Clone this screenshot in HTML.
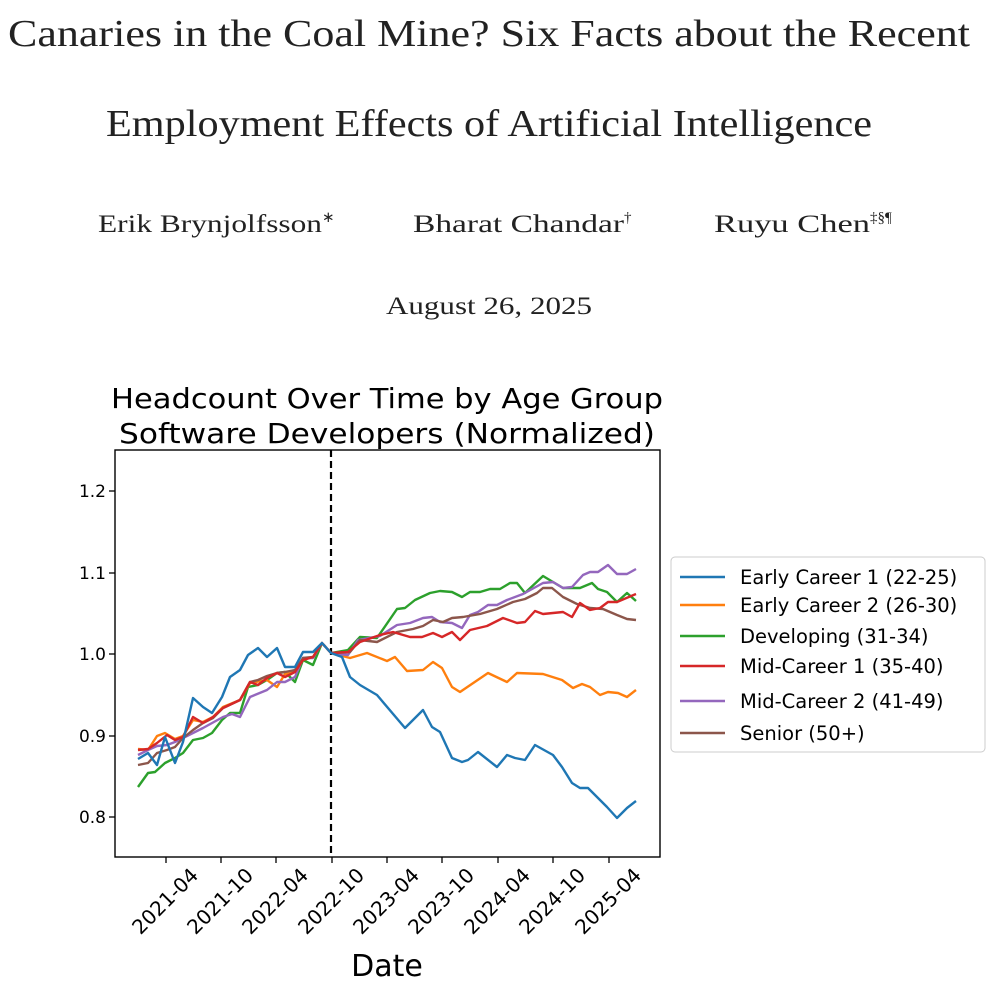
<!DOCTYPE html>
<html><head><meta charset="utf-8"><style>
html,body{margin:0;padding:0;background:#fff;width:1000px;height:990px;overflow:hidden}
</style></head><body>
<svg width="1000" height="990" xmlns="http://www.w3.org/2000/svg">
<g font-family="Liberation Serif, serif" fill="#222">
<text x="8" y="46" font-size="38" textLength="962" lengthAdjust="spacingAndGlyphs">Canaries in the Coal Mine? Six Facts about the Recent</text>
<text x="106" y="136" font-size="38" textLength="766" lengthAdjust="spacingAndGlyphs">Employment Effects of Artificial Intelligence</text>
<text x="98" y="232" font-size="25"><tspan textLength="224" lengthAdjust="spacingAndGlyphs">Erik Brynjolfsson</tspan><tspan font-size="15" dy="-10">∗</tspan></text>
<text x="413" y="232" font-size="25"><tspan textLength="211" lengthAdjust="spacingAndGlyphs">Bharat Chandar</tspan><tspan font-size="15" dy="-10">†</tspan></text>
<text x="714" y="232" font-size="25"><tspan textLength="156" lengthAdjust="spacingAndGlyphs">Ruyu Chen</tspan><tspan font-size="15" dy="-10">‡§¶</tspan></text>
<text x="386" y="314" font-size="25" textLength="206" lengthAdjust="spacingAndGlyphs">August 26, 2025</text>
</g>
<g font-family="DejaVu Sans, Liberation Sans, sans-serif" fill="#000">
<text x="387" y="408" font-size="28" text-anchor="middle" textLength="552" lengthAdjust="spacingAndGlyphs">Headcount Over Time by Age Group</text>
<text x="387" y="443" font-size="28" text-anchor="middle" textLength="536" lengthAdjust="spacingAndGlyphs">Software Developers (Normalized)</text>
<text x="387" y="976" font-size="30" text-anchor="middle">Date</text>
<g font-size="17" text-anchor="end">
<text x="106" y="497">1.2</text><text x="106" y="579">1.1</text><text x="106" y="660">1.0</text><text x="106" y="742">0.9</text><text x="106" y="823">0.8</text>
</g>
<g font-size="20" text-anchor="middle">
<text transform="translate(170,906) rotate(-45)">2021-04</text>
<text transform="translate(225,906) rotate(-45)">2021-10</text>
<text transform="translate(280,906) rotate(-45)">2022-04</text>
<text transform="translate(336,906) rotate(-45)">2022-10</text>
<text transform="translate(391,906) rotate(-45)">2023-04</text>
<text transform="translate(446,906) rotate(-45)">2023-10</text>
<text transform="translate(502,906) rotate(-45)">2024-04</text>
<text transform="translate(557,906) rotate(-45)">2024-10</text>
<text transform="translate(613,906) rotate(-45)">2025-04</text>
</g>
</g>
<g stroke="#000" stroke-width="1.3">
<line x1="109" y1="491" x2="115" y2="491"/><line x1="109" y1="573" x2="115" y2="573"/><line x1="109" y1="654" x2="115" y2="654"/><line x1="109" y1="736" x2="115" y2="736"/><line x1="109" y1="817" x2="115" y2="817"/>
<line x1="166" y1="857" x2="166" y2="863"/><line x1="221" y1="857" x2="221" y2="863"/><line x1="276" y1="857" x2="276" y2="863"/><line x1="332" y1="857" x2="332" y2="863"/><line x1="387" y1="857" x2="387" y2="863"/><line x1="442" y1="857" x2="442" y2="863"/><line x1="498" y1="857" x2="498" y2="863"/><line x1="553" y1="857" x2="553" y2="863"/><line x1="609" y1="857" x2="609" y2="863"/>
</g>
<line x1="331" y1="450" x2="331" y2="857" stroke="#000" stroke-width="2.2" stroke-dasharray="7,4"/>
<g fill="none" stroke-width="2.4" stroke-linejoin="round">
<polyline stroke="#2ca02c" points="138,787 148,773 155,772 165,763 175,758 183,753 193,740 203,738 212,733 222,720 230,713 240,713 248,687 258,685 267,680 277,673 285,672 295,682 303,660 313,665 322,643 331,653 348,650 360,637 377,638 397,609 405,608 415,600 430,593 440,591 452,592 462,597 470,592 480,592 490,589 500,589 510,583 517,583 525,593 543,576 563,588 580,588 592,583 598,589 607,592 617,602 627,593 636,601"/>
<polyline stroke="#ff7f0e" points="138,749 148,750 157,736 165,733 175,739 183,736 193,720 203,722 213,717 223,707 240,700 250,683 267,680 277,687 285,674 295,672 303,660 313,657 322,643 331,653 350,658 367,653 387,661 395,657 407,671 423,670 433,662 442,668 452,687 460,692 488,673 507,682 517,673 543,674 562,680 573,688 582,684 590,687 600,695 608,692 618,693 627,697 636,690"/>
<polyline stroke="#9467bd" points="138,755 148,750 157,746 167,745 175,742 183,738 203,728 223,717 232,714 240,717 250,697 267,690 277,682 285,682 295,677 303,658 313,658 322,643 331,653 348,655 358,640 380,636 397,625 410,623 423,618 432,617 440,622 452,623 462,628 470,615 478,612 488,605 497,605 507,600 523,594 543,583 553,582 563,588 572,587 583,575 590,572 598,572 608,565 617,574 627,574 636,569"/>
<polyline stroke="#8c564b" points="138,765 148,763 157,753 167,750 175,747 183,738 193,730 203,723 213,718 223,708 240,700 250,682 258,680 267,676 277,673 285,672 295,670 303,658 313,657 322,643 331,653 350,652 360,640 377,642 397,632 413,629 423,626 433,620 443,622 452,618 463,617 480,614 497,609 513,602 525,599 537,593 543,588 552,588 563,597 577,604 590,608 603,609 617,615 627,619 636,620"/>
<polyline stroke="#d62728" points="138,750 148,749 157,743 167,735 175,740 183,737 193,717 203,723 213,717 223,708 240,700 250,682 258,685 267,678 277,673 285,677 295,672 303,660 313,657 322,643 331,653 348,652 360,642 380,635 393,632 410,637 422,637 433,633 442,637 452,632 460,640 470,630 487,626 503,618 517,623 525,622 535,611 543,614 563,612 572,617 580,603 590,610 600,608 608,602 617,602 636,594"/>
<polyline stroke="#1f77b4" points="138,759 148,753 157,765 165,737 175,763 183,742 193,698 203,707 212,713 222,697 230,677 240,670 248,655 258,648 267,657 277,648 285,667 295,667 303,652 313,652 322,643 331,653 342,657 350,677 360,685 377,695 405,728 423,710 432,727 440,732 452,758 462,762 468,760 478,752 497,767 507,755 515,758 525,760 535,745 553,755 562,767 572,783 580,788 588,788 607,807 617,818 627,808 636,801"/>
</g>
<rect x="115" y="450" width="545" height="407" fill="none" stroke="#000" stroke-width="1.4"/>
<rect x="671" y="557" width="314" height="195" rx="4" fill="#fff" stroke="#ccc" stroke-width="1"/>
<g stroke-width="2.4">
<line x1="680" y1="577" x2="725" y2="577" stroke="#1f77b4"/>
<line x1="680" y1="605" x2="725" y2="605" stroke="#ff7f0e"/>
<line x1="680" y1="636" x2="725" y2="636" stroke="#2ca02c"/>
<line x1="680" y1="666" x2="725" y2="666" stroke="#d62728"/>
<line x1="680" y1="701" x2="725" y2="701" stroke="#9467bd"/>
<line x1="680" y1="733" x2="725" y2="733" stroke="#8c564b"/>
</g>
<g font-family="DejaVu Sans, Liberation Sans, sans-serif" font-size="19.5" fill="#000">
<text x="740" y="584">Early Career 1 (22-25)</text>
<text x="740" y="612">Early Career 2 (26-30)</text>
<text x="740" y="643">Developing (31-34)</text>
<text x="740" y="673">Mid-Career 1 (35-40)</text>
<text x="740" y="708">Mid-Career 2 (41-49)</text>
<text x="740" y="740">Senior (50+)</text>
</g>
</svg>
</body></html>
